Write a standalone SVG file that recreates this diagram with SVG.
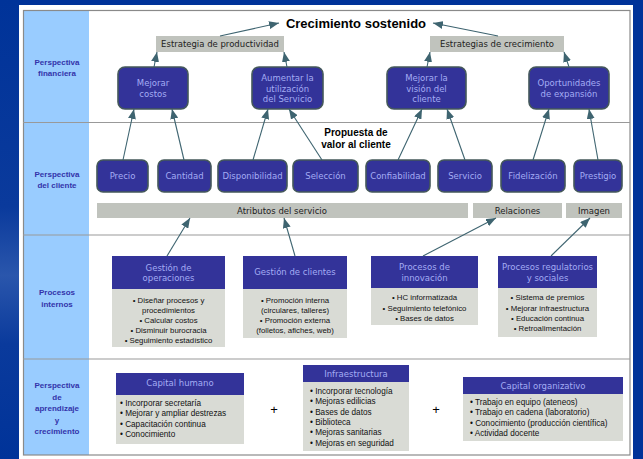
<svg xmlns="http://www.w3.org/2000/svg" width="643" height="459" viewBox="0 0 643 459">
<defs>
<linearGradient id="bgL" x1="0" y1="0" x2="0" y2="1">
<stop offset="0" stop-color="#003399"/>
<stop offset="0.45" stop-color="#0a3a9c"/>
<stop offset="0.6" stop-color="#2a56ac"/>
<stop offset="0.75" stop-color="#0a3a9c"/>
<stop offset="1" stop-color="#003399"/>
</linearGradient>
<marker id="ah" markerUnits="userSpaceOnUse" markerWidth="10" markerHeight="8" refX="10" refY="4" orient="auto">
<path d="M0,0 L10,4 L0,8 z" fill="#3e6470"/>
</marker>
<style>
.lbl{font-family:"Liberation Sans",Arial,sans-serif;font-weight:bold;font-size:8px;fill:#3333aa;text-anchor:middle}
.node{fill:#333399;stroke:#44585a;stroke-width:1.6}
.nt{font-family:"DejaVu Sans",Verdana,sans-serif;font-size:8.5px;fill:#a4acf4;text-anchor:middle}
.bar{fill:#c0c3bd}
.bt{font-family:"DejaVu Sans",Verdana,sans-serif;font-size:8.5px;fill:#222;text-anchor:middle}
.hdr{fill:#333399}
.body{fill:#d9dbd5}
.pt{font-family:"Liberation Sans",Arial,sans-serif;font-size:7.8px;fill:#111;text-anchor:middle}
.lt{font-family:"Liberation Sans",Arial,sans-serif;font-size:8.2px;fill:#111}
.conn line{stroke:#3e6470;stroke-width:1.1;marker-end:url(#ah)}
.sep{stroke:#999;stroke-width:1.2}
</style>
</defs>
<rect x="0" y="0" width="643" height="459" fill="#003399"/>
<rect x="0" y="0" width="19" height="459" fill="url(#bgL)"/>
<rect x="19" y="5" width="614" height="454" fill="#fff"/>
<rect x="24" y="10" width="65" height="445" fill="#99ccff"/>
<rect x="23.5" y="10.5" width="606.5" height="444.5" fill="none" stroke="#8a8a8a" stroke-width="1.2"/>
<line class="sep" x1="23" y1="122.5" x2="630" y2="122.5"/>
<line class="sep" x1="23" y1="235" x2="630" y2="235"/>
<line class="sep" x1="23" y1="359" x2="630" y2="359"/>

<g id="labels">
<text class="lbl" x="57" y="65">Perspectiva</text>
<text class="lbl" x="57" y="76">financiera</text>
<text class="lbl" x="57" y="177">Perspectiva</text>
<text class="lbl" x="57" y="188">del cliente</text>
<text class="lbl" x="57" y="295">Procesos</text>
<text class="lbl" x="57" y="307">internos</text>
<text class="lbl" x="57" y="388">Perspectiva</text>
<text class="lbl" x="57" y="399.5">de</text>
<text class="lbl" x="57" y="411">aprendizaje</text>
<text class="lbl" x="57" y="422.5">y</text>
<text class="lbl" x="57" y="434">crecimiento</text>
</g>

<g id="title"><text x="356" y="27.5" font-family="Liberation Sans,Arial,sans-serif" font-weight="bold" font-size="13" text-anchor="middle" fill="#000">Crecimiento sostenido</text></g>

<g id="estrategia-productividad"><rect class="bar" x="156" y="36" width="128" height="16"/><text class="bt" x="220" y="47">Estrategia de productividad</text></g>
<g id="estrategias-crecimiento"><rect class="bar" x="430" y="36" width="134" height="16"/><text class="bt" x="497" y="47">Estrategias de crecimiento</text></g>

<g id="mejorar-costos"><rect class="node" x="118" y="67" width="70" height="42" rx="7"/><text class="nt" x="153" y="86">Mejorar</text><text class="nt" x="153" y="97">costos</text></g>
<g id="aumentar"><rect class="node" x="252" y="67" width="71" height="42" rx="7"/><text class="nt" x="287.5" y="81">Aumentar la</text><text class="nt" x="287.5" y="91.5">utilización</text><text class="nt" x="287.5" y="102">del Servicio</text></g>
<g id="mejorar-vision"><rect class="node" x="387" y="67" width="79" height="42" rx="7"/><text class="nt" x="426.5" y="81">Mejorar la</text><text class="nt" x="426.5" y="91.5">visión del</text><text class="nt" x="426.5" y="102">cliente</text></g>
<g id="oportunidades"><rect class="node" x="529" y="67" width="80" height="42" rx="7"/><text class="nt" x="569" y="86">Oportunidades</text><text class="nt" x="569" y="97">de expansión</text></g>

<g id="propuesta"><text x="356" y="136" font-family="Liberation Sans,Arial,sans-serif" font-weight="bold" font-size="10" text-anchor="middle" fill="#000">Propuesta de</text><text x="356" y="147.5" font-family="Liberation Sans,Arial,sans-serif" font-weight="bold" font-size="10" text-anchor="middle" fill="#000">valor al cliente</text></g>

<g id="precio"><rect class="node" x="97" y="160" width="51" height="32" rx="6"/><text class="nt" x="122.5" y="179">Precio</text></g>
<g id="cantidad"><rect class="node" x="158" y="160" width="53" height="32" rx="6"/><text class="nt" x="184.5" y="179">Cantidad</text></g>
<g id="disponibilidad"><rect class="node" x="218" y="160" width="69" height="32" rx="6"/><text class="nt" x="252.5" y="179">Disponibilidad</text></g>
<g id="seleccion"><rect class="node" x="293" y="160" width="65" height="32" rx="6"/><text class="nt" x="325.5" y="179">Selección</text></g>
<g id="confiabilidad"><rect class="node" x="366" y="160" width="64" height="32" rx="6"/><text class="nt" x="398" y="179">Confiabilidad</text></g>
<g id="servicio"><rect class="node" x="438" y="160" width="54" height="32" rx="6"/><text class="nt" x="465" y="179">Servicio</text></g>
<g id="fidelizacion"><rect class="node" x="501" y="160" width="64" height="32" rx="6"/><text class="nt" x="533" y="179">Fidelización</text></g>
<g id="prestigio"><rect class="node" x="574" y="160" width="48" height="32" rx="6"/><text class="nt" x="598" y="179">Prestigio</text></g>

<g id="atributos"><rect class="bar" x="97" y="203" width="371" height="15"/><text class="bt" x="282" y="213.5">Atributos del servicio</text></g>
<g id="relaciones"><rect class="bar" x="473" y="203" width="89" height="15"/><text class="bt" x="517.5" y="213.5">Relaciones</text></g>
<g id="imagen"><rect class="bar" x="566" y="203" width="56" height="15"/><text class="bt" x="594" y="213.5">Imagen</text></g>

<g id="gestion-operaciones"><rect class="hdr" x="112" y="256" width="113" height="33"/><rect class="body" x="112" y="289" width="113" height="58"/>
<text class="nt" x="168.5" y="270.5" style="font-size:8.5px">Gestión de</text><text class="nt" x="168.5" y="281">operaciones</text>
<text class="pt" x="168.5" y="302.5">• Diseñar procesos y</text><text class="pt" x="168.5" y="312.5">procedimientos</text><text class="pt" x="168.5" y="322.5">• Calcular costos</text><text class="pt" x="168.5" y="332.5">• Disminuir burocracia</text><text class="pt" x="168.5" y="342.5">• Seguimiento estadístico</text></g>

<g id="gestion-clientes"><rect class="hdr" x="243" y="256" width="104" height="33"/><rect class="body" x="243" y="289" width="104" height="49"/>
<text class="nt" x="295" y="275">Gestión de clientes</text>
<text class="pt" x="295" y="302.5">• Promoción interna</text><text class="pt" x="295" y="312.5">(circulares, talleres)</text><text class="pt" x="295" y="322.5">• Promoción externa</text><text class="pt" x="295" y="332.5">(folletos, afiches, web)</text></g>

<g id="procesos-innovacion"><rect class="hdr" x="371" y="256" width="107" height="32"/><rect class="body" x="371" y="288" width="107" height="37"/>
<text class="nt" x="424.5" y="270">Procesos de</text><text class="nt" x="424.5" y="281">innovación</text>
<text class="pt" x="424.5" y="300">• HC informatizada</text><text class="pt" x="424.5" y="310.5">• Seguimiento telefónico</text><text class="pt" x="424.5" y="321">• Bases de datos</text></g>

<g id="procesos-regulatorios"><rect class="hdr" x="498" y="256" width="99" height="32"/><rect class="body" x="498" y="288" width="99" height="49"/>
<text class="nt" x="547.5" y="270">Procesos regulatorios</text><text class="nt" x="547.5" y="281">y sociales</text>
<text class="pt" x="547.5" y="300">• Sistema de premios</text><text class="pt" x="547.5" y="310.5">• Mejorar infraestructura</text><text class="pt" x="547.5" y="321">• Educación continua</text><text class="pt" x="547.5" y="331">• Retroalimentación</text></g>

<g id="capital-humano"><rect class="hdr" x="116" y="373" width="128" height="22"/><rect class="body" x="116" y="395" width="128" height="49"/>
<text class="nt" x="180" y="386">Capital humano</text>
<text class="lt" x="120" y="406">• Incorporar secretaría</text><text class="lt" x="120" y="416.3">• Mejorar y ampliar destrezas</text><text class="lt" x="120" y="426.6">• Capacitación continua</text><text class="lt" x="120" y="437">• Conocimiento</text></g>

<g id="plus1"><text x="274" y="414" font-family="Liberation Sans,Arial,sans-serif" font-size="13" text-anchor="middle" fill="#000">+</text></g>

<g id="infraestructura"><rect class="hdr" x="303" y="365" width="106" height="17"/><rect class="body" x="303" y="382" width="106" height="69"/>
<text class="nt" x="356" y="377">Infraestructura</text>
<text class="lt" x="310" y="394">• Incorporar tecnología</text><text class="lt" x="310" y="404.3">• Mejoras edilicias</text><text class="lt" x="310" y="414.6">• Bases de datos</text><text class="lt" x="310" y="425">• Biblioteca</text><text class="lt" x="310" y="435.3">• Mejoras sanitarias</text><text class="lt" x="310" y="445.6">• Mejoras en seguridad</text></g>

<g id="plus2"><text x="436" y="414" font-family="Liberation Sans,Arial,sans-serif" font-size="13" text-anchor="middle" fill="#000">+</text></g>

<g id="capital-organizativo"><rect class="hdr" x="463" y="377" width="160" height="17"/><rect class="body" x="463" y="394" width="160" height="47"/>
<text class="nt" x="543" y="389">Capital organizativo</text>
<text class="lt" x="470" y="405">• Trabajo en equipo (ateneos)</text><text class="lt" x="470" y="415.3">• Trabajo en cadena (laboratorio)</text><text class="lt" x="470" y="425.6">• Conocimiento (producción científica)</text><text class="lt" x="470" y="436">• Actividad docente</text></g>

<g id="connectors" class="conn">
<line x1="220" y1="36" x2="279" y2="23"/>
<line x1="498" y1="36" x2="433" y2="23"/>
<line x1="154" y1="67" x2="157" y2="52"/>
<line x1="287" y1="67" x2="284" y2="52"/>
<line x1="427" y1="67" x2="430" y2="52"/>
<line x1="569" y1="67" x2="564" y2="52"/>
<line x1="123" y1="160" x2="134" y2="109"/>
<line x1="184" y1="160" x2="172" y2="109"/>
<line x1="253" y1="160" x2="268" y2="109"/>
<line x1="322" y1="160" x2="289" y2="109"/>
<line x1="398" y1="160" x2="422" y2="109"/>
<line x1="465" y1="160" x2="447" y2="109"/>
<line x1="533" y1="160" x2="549" y2="109"/>
<line x1="598" y1="160" x2="589" y2="109"/>
<line x1="167" y1="256" x2="190" y2="218"/>
<line x1="295" y1="256" x2="284" y2="218"/>
<line x1="423" y1="256" x2="496" y2="218"/>
<line x1="551" y1="256" x2="590" y2="218"/>
</g>
</svg>
